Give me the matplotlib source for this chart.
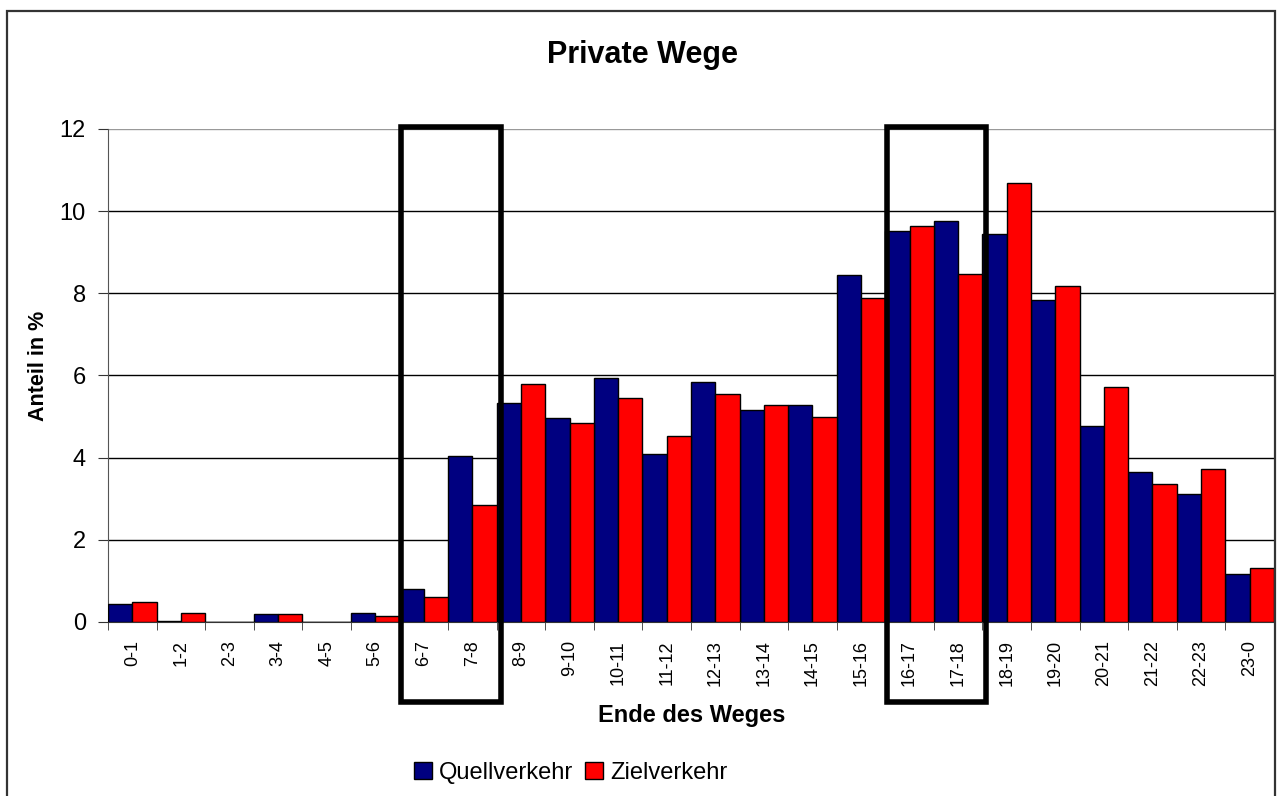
import matplotlib.pyplot as plt
import matplotlib.patches as patches
import matplotlib.transforms as transforms
import numpy as np

plt.rcParams['font.family'] = ['Liberation Sans', 'DejaVu Sans']

categories = ['0-1', '1-2', '2-3', '3-4', '4-5', '5-6', '6-7', '7-8', '8-9', '9-10',
              '10-11', '11-12', '12-13', '13-14', '14-15', '15-16', '16-17', '17-18',
              '18-19', '19-20', '20-21', '21-22', '22-23', '23-0']
quellverkehr = [0.44, 0.03, 0.0, 0.2, 0.0, 0.23, 0.80, 4.03, 5.32, 4.96, 5.93, 4.08,
                5.84, 5.15, 5.28, 8.45, 9.52, 9.77, 9.45, 7.84, 4.77, 3.65, 3.12, 1.16]
zielverkehr = [0.48, 0.23, 0.0, 0.2, 0.0, 0.15, 0.62, 2.84, 5.80, 4.84, 5.45, 4.52,
               5.56, 5.28, 5.0, 7.88, 9.64, 8.48, 10.69, 8.17, 5.72, 3.36, 3.72, 1.32]
highlight = [(6, 8), (16, 18)]

fig = plt.figure(figsize=(12.77, 7.96), dpi=100)
ax = fig.add_axes([0.0846, 0.2186, 0.9130, 0.6194])

# outer chart border (bottom edge is cut off in the original)
fig.add_artist(patches.Rectangle((7 / 1277, -0.02), 1268 / 1277, 0.02 + 785 / 796,
                                 transform=fig.transFigure, fill=False,
                                 edgecolor='#333333', linewidth=1.6))

x = np.arange(len(categories))
w = 0.5
ax.bar(x - w / 2, quellverkehr, w, color='#000080', edgecolor='black', linewidth=1,
       label='Quellverkehr', zorder=3)
ax.bar(x + w / 2, zielverkehr, w, color='#ff0000', edgecolor='black', linewidth=1,
       label='Zielverkehr', zorder=3)

ax.set_xlim(-0.5, len(categories) - 0.5)
ax.set_ylim(0, 12)
ax.set_yticks(range(0, 13, 2))
ax.set_xticks(x)
ax.set_xticklabels(categories, rotation=90, fontsize=13)
ax.set_xticks(np.arange(-0.5, len(categories), 1), minor=True)
ax.tick_params(axis='x', which='major', length=0, pad=13)
ax.tick_params(axis='x', which='minor', length=6, color='#333333', direction='out')
ax.tick_params(axis='y', labelsize=17, length=7, direction='out', color='#333333', pad=9)
ax.yaxis.grid(True, color='black', linewidth=1, zorder=0)
ax.get_ygridlines()[-1].set_color('#999999')
for s in ['top', 'right']:
    ax.spines[s].set_visible(False)
ax.spines['left'].set_color('#555555')
ax.spines['bottom'].set_color('#333333')

trans = transforms.blended_transform_factory(ax.transData, ax.transAxes)
for a, b in highlight:
    rect = patches.Rectangle((a - 0.47, -0.162), b - a + 0.05, 1.166, transform=trans,
                             fill=False, edgecolor='black', linewidth=4, clip_on=False,
                             zorder=5)
    ax.add_patch(rect)

fig.text(0.503, 0.931, 'Private Wege', ha='center', va='center', fontsize=22,
         fontweight='bold')
fig.text(0.030, 0.54, 'Anteil in %', ha='center', va='center', rotation=90,
         fontsize=15.5, fontweight='bold')
fig.text(0.542, 0.101, 'Ende des Weges', ha='center', va='center', fontsize=17,
         fontweight='bold')

fig.legend(loc='center', bbox_to_anchor=(0.447, 0.029), ncol=2, frameon=False,
           fontsize=17, handlelength=0.75, handleheight=0.75, handletextpad=0.3,
           columnspacing=0.5)

fig.savefig('out.png', dpi=100)
